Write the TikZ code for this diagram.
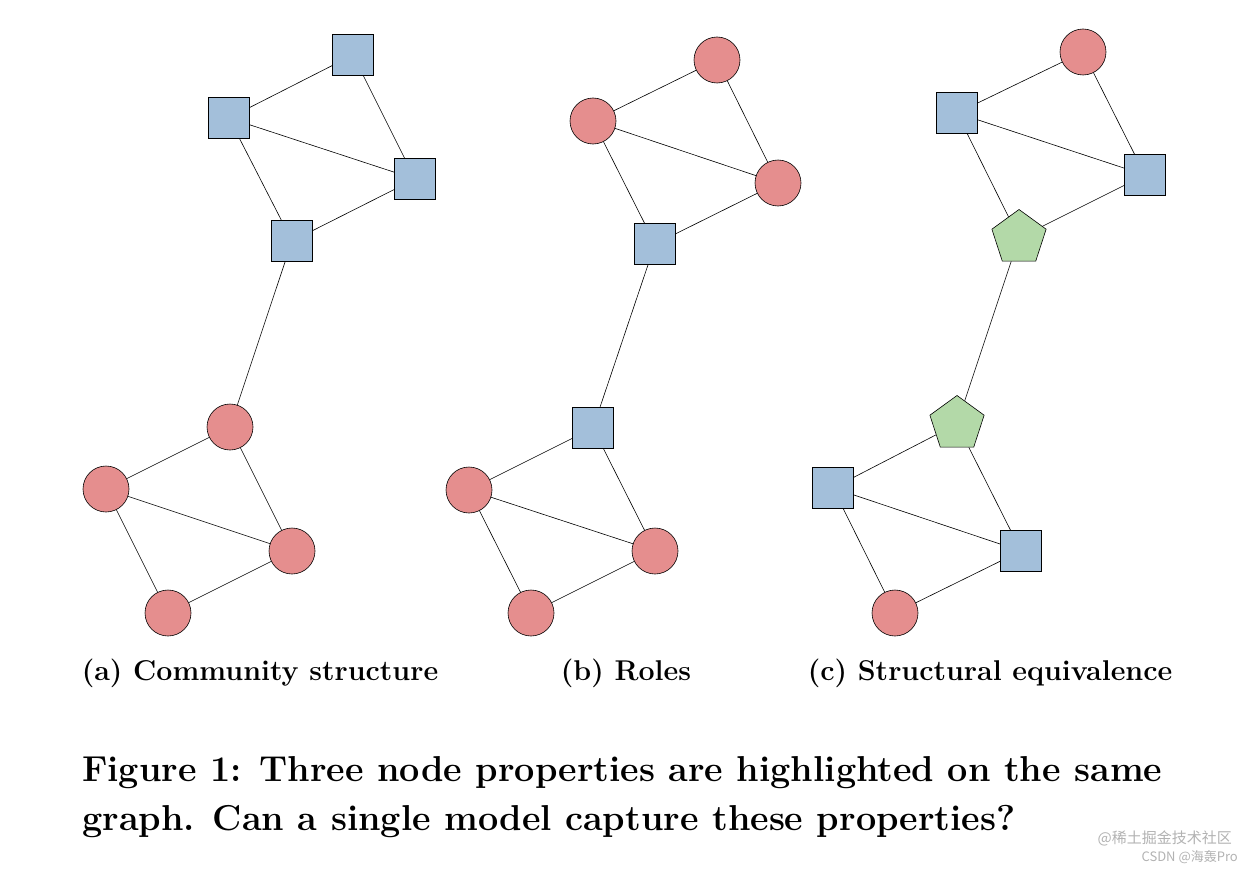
\documentclass[tikz,border=0pt]{standalone}
\usepackage{fontspec}
\newfontfamily\cjk{Noto Sans CJK SC}
\usetikzlibrary{shapes.geometric}
\definecolor{cred}{HTML}{E58E8E}
\definecolor{cblue}{HTML}{A3BFDA}
\definecolor{cgreen}{HTML}{B3D9A8}
\begin{document}
\begin{tikzpicture}[x=1pt,y=-1pt,
 sq/.style={draw,fill=cblue,minimum size=41pt,inner sep=0,line width=0.6pt},
 ci/.style={draw,circle,fill=cred,minimum size=46pt,inner sep=0,line width=0.6pt},
 pe/.style={draw,regular polygon,regular polygon sides=5,fill=cgreen,minimum size=57pt,inner sep=0,line width=0.6pt},
 ed/.style={line width=0.6pt},
 subcap/.style={font=\bfseries\fontsize{28.6}{32}\selectfont,anchor=base},
 figcap/.style={font=\bfseries\fontsize{36}{40}\selectfont,anchor=base west,inner sep=0}]
\useasboundingbox (0,0) rectangle (1252,872);
% (a)
\node[sq] (a1) at (353,55) {};
\node[sq] (a2) at (229,118) {};
\node[sq] (a3) at (415,179) {};
\node[sq] (a4) at (292,241) {};
\node[ci] (a5) at (230,427) {};
\node[ci] (a6) at (106,489) {};
\node[ci] (a7) at (292,551) {};
\node[ci] (a8) at (168,613) {};
% (b)
\node[ci] (b1) at (717,60) {};
\node[ci] (b2) at (593,121) {};
\node[ci] (b3) at (778,183) {};
\node[sq] (b4) at (655,244) {};
\node[sq] (b5) at (593,428) {};
\node[ci] (b6) at (469,490) {};
\node[ci] (b7) at (655,551) {};
\node[ci] (b8) at (531,613) {};
% (c)
\node[ci] (c1) at (1083,52) {};
\node[sq] (c2) at (957,113) {};
\node[sq] (c3) at (1145,175) {};
\node[pe] (c4) at (1019,238) {};
\node[pe] (c5) at (957,424) {};
\node[sq] (c6) at (833,488) {};
\node[sq] (c7) at (1021,551) {};
\node[ci] (c8) at (895,613) {};
\foreach \g in {a,b,c}{
 \draw[ed] (\g1)--(\g2) (\g1)--(\g3) (\g2)--(\g3) (\g2)--(\g4) (\g3)--(\g4) (\g4)--(\g5)
  (\g5)--(\g6) (\g5)--(\g7) (\g6)--(\g7) (\g6)--(\g8) (\g7)--(\g8);
}
\node[subcap] (ta) at (260,680) {(a) Community structure};
\node[subcap] (tb) at (626,680) {(b) Roles};
\node[subcap] (tc) at (990,680) {(c) Structural equivalence};
\node[figcap] (fc1) at (82,781) {Figure 1: Three node properties are highlighted on the same};
\node[figcap] (fc2) at (82,830) {graph. Can a single model capture these properties?};
\node[font=\cjk\fontsize{15}{15}\selectfont,text=gray!60,anchor=east,inner sep=0] (w1) at (1232,838) {@稀土掘金技术社区};
\node[font=\cjk\fontsize{13}{13}\selectfont,text=gray!60,anchor=east,inner sep=0] (w2) at (1238,857) {CSDN @海轰Pro};
\end{tikzpicture}
\end{document}
